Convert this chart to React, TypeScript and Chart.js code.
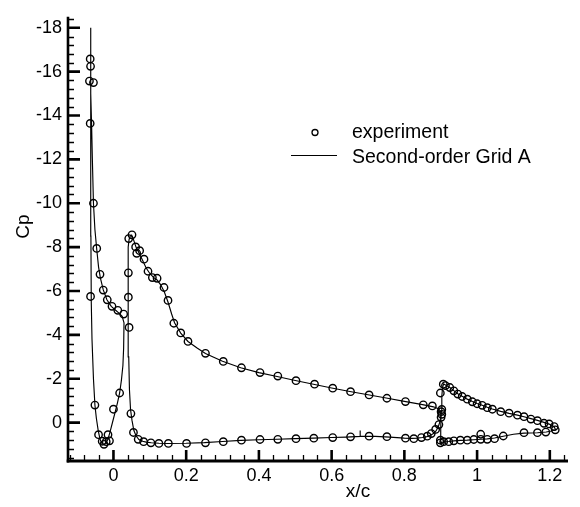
import React, { useEffect, useRef } from 'react';
import { Chart, registerables } from 'chart.js';

Chart.register(...registerables);

// ---------- axis settings ----------
const X_MIN = -0.125;
const X_MAX = 1.25;
const Y_MIN = -18.5; // drawn at top (reversed axis)
const Y_MAX = 1.75;
const xTickValues = [0, 0.2, 0.4, 0.6, 0.8, 1, 1.2];
const xTickLabels = ['0', '0.2', '0.4', '0.6', '0.8', '1', '1.2'];
const yTickValues = [-18, -16, -14, -12, -10, -8, -6, -4, -2, 0];
const yTickLabels = ['-18', '-16', '-14', '-12', '-10', '-8', '-6', '-4', '-2', '0'];
const X_MINOR_STEP = 0.04;
const Y_MINOR_STEP = 0.4;

const xTitle = 'x/c';
const yTitle = 'Cp';
const expLabel = 'experiment';
const cfdLabel = 'Second-order Grid A';

// ---------- experiment (circles) ----------
const expX = [
  // slat upper
  -0.064, -0.063, -0.066, -0.055, -0.064, -0.055, -0.046, -0.037, -0.028, -0.017, -0.004, 0.012, 0.028,
  // slat lower
  -0.063, -0.051, -0.041, -0.031, -0.026, -0.020, -0.015, -0.011, 0.000, 0.017,
  // main leading edge / upper
  0.041, 0.041, 0.043, 0.042, 0.051, 0.061, 0.064, 0.072, 0.084, 0.095, 0.107, 0.120, 0.139, 0.150,
  0.166, 0.185, 0.205, 0.253, 0.302, 0.352, 0.403, 0.452, 0.502, 0.553, 0.603, 0.652, 0.703, 0.752,
  0.803, 0.852, 0.877, 0.901,
  // main lower
  0.048, 0.055, 0.068, 0.083, 0.103, 0.125, 0.151, 0.201, 0.253, 0.302, 0.352, 0.403, 0.452, 0.502,
  0.551, 0.603, 0.652, 0.703, 0.752, 0.803, 0.826, 0.847, 0.863, 0.874, 0.886, 0.895, 0.901,
  // flap leading edge
  0.899, 0.903, 0.903,
  // flap upper
  0.907, 0.913, 0.925, 0.936, 0.947, 0.959, 0.973, 0.987, 1.000, 1.014, 1.028, 1.042, 1.065, 1.088,
  1.111, 1.129, 1.148, 1.166, 1.184, 1.198, 1.212, 1.215,
  // flap lower
  1.189, 1.166, 1.129, 1.072, 1.048, 1.028, 1.010, 1.010, 0.991, 0.973, 0.954, 0.936, 0.922, 0.908,
  0.899, 0.899,
];
const expCp = [
  -16.58, -16.24, -15.57, -15.5, -13.64, -10.0, -7.94, -6.76, -6.04, -5.6, -5.3, -5.12, -4.95,
  -5.75, -0.8, 0.55, 0.85, 0.99, 0.87, 0.55, 0.83, -0.61, -1.35,
  -6.83, -5.72, -4.34, -8.39, -8.56, -8.01, -7.72, -7.84, -7.45, -6.9, -6.61, -6.58, -6.16, -5.57,
  -4.53, -4.09, -3.7, -3.16, -2.79, -2.5, -2.28, -2.12, -1.91, -1.75, -1.57, -1.41, -1.26, -1.11,
  -0.96, -0.81, -0.76, -0.5,
  -0.41, 0.45, 0.76, 0.87, 0.92, 0.95, 0.95, 0.95, 0.92, 0.87, 0.8, 0.77, 0.76, 0.73,
  0.71, 0.68, 0.65, 0.62, 0.64, 0.71, 0.73, 0.68, 0.62, 0.5, 0.31, 0.09, -0.24,
  -1.35, -0.6, -0.38,
  -1.75, -1.69, -1.6, -1.45, -1.3, -1.19, -1.07, -0.95, -0.86, -0.79, -0.68, -0.61, -0.5, -0.43,
  -0.34, -0.27, -0.16, -0.09, 0.03, 0.06, 0.18, 0.33,
  0.43, 0.46, 0.46, 0.61, 0.73, 0.76, 0.53, 0.76, 0.77, 0.8, 0.8, 0.83, 0.87, 0.87,
  0.92, 0.8,
];

// ---------- computation (solid line), one closed trace per element ----------
const slatX = [
  0.029, 0.028, 0.026, 0.022, 0.017, 0.011, 0.005, -0.002, -0.009, -0.015, -0.021, -0.027, -0.032,
  -0.037, -0.042, -0.047, -0.051, -0.055, -0.059, -0.061, -0.062, -0.062, -0.063, -0.063, -0.062,
  -0.060, -0.058, -0.055, -0.051, -0.046, -0.041, -0.036, -0.028, -0.018, -0.006, 0.006, 0.016,
  0.024, 0.029,
];
const slatCp = [
  -4.55, -3.4, -2.6, -1.95, -1.35, -0.9, -0.5, -0.05, 0.4, 0.75, 0.95, 1.0, 0.95,
  0.75, 0.35, -0.2, -0.8, -2.0, -3.8, -5.5, -8.5, -13.0, -18.0, -16.5, -15.0,
  -13.5, -12.0, -10.0, -8.8, -7.9, -7.1, -6.6, -6.05, -5.6, -5.3, -5.12, -4.98,
  -4.85, -4.55,
];

const mainX = [
  0.901, 0.9, 0.897, 0.893, 0.887, 0.88, 0.872, 0.862, 0.85, 0.835, 0.82, 0.8, 0.76, 0.72, 0.68,
  0.679, 0.678, 0.64, 0.6, 0.55, 0.5, 0.45, 0.4, 0.35, 0.3, 0.25, 0.2, 0.15, 0.125, 0.104, 0.09,
  0.08, 0.07, 0.062, 0.056, 0.051, 0.047, 0.044, 0.042, 0.041, 0.04, 0.04, 0.041, 0.043, 0.046,
  0.05, 0.053, 0.057, 0.062, 0.07, 0.08, 0.09, 0.1, 0.11, 0.12, 0.13, 0.14, 0.15, 0.16, 0.168,
  0.185, 0.205, 0.23, 0.253, 0.3, 0.35, 0.4, 0.45, 0.5, 0.55, 0.6, 0.65, 0.7, 0.75, 0.8, 0.85,
  0.88, 0.895, 0.901,
];
const mainCp = [
  -0.45, -0.25, 0.0, 0.2, 0.38, 0.5, 0.58, 0.64, 0.68, 0.71, 0.72, 0.71, 0.66, 0.63, 0.63,
  0.36, 0.63, 0.66, 0.68, 0.71, 0.73, 0.76, 0.78, 0.81, 0.86, 0.91, 0.94, 0.95, 0.94, 0.92, 0.89,
  0.85, 0.77, 0.6, 0.35, -0.1, -0.6, -1.5, -3.0, -4.5, -6.0, -7.2, -8.0, -8.35, -8.5,
  -8.55, -8.45, -8.25, -8.0, -7.75, -7.4, -7.05, -6.8, -6.62, -6.5, -6.28, -5.95, -5.5, -4.95, -4.55,
  -4.08, -3.7, -3.4, -3.15, -2.8, -2.5, -2.28, -2.1, -1.92, -1.75, -1.58, -1.42, -1.27, -1.12, -0.97, -0.82,
  -0.72, -0.62, -0.45,
];

const flapX = [
  0.899, 0.9, 0.901, 0.903, 0.905, 0.908, 0.913, 0.925, 0.936, 0.947, 0.959, 0.973, 0.987, 1.0,
  1.014, 1.028, 1.042, 1.065, 1.088, 1.111, 1.129, 1.148, 1.166, 1.184, 1.2, 1.212, 1.216, 1.205,
  1.19, 1.166, 1.129, 1.1, 1.072, 1.048, 1.028, 1.01, 0.991, 0.973, 0.954, 0.936, 0.922, 0.91,
  0.902, 0.899,
];
const flapCp = [
  0.92, 0.3, -0.5, -1.2, -1.6, -1.77, -1.72, -1.6, -1.46, -1.32, -1.2, -1.07, -0.96, -0.87,
  -0.79, -0.7, -0.62, -0.51, -0.42, -0.34, -0.27, -0.18, -0.1, -0.01, 0.08, 0.2, 0.32, 0.38,
  0.43, 0.46, 0.48, 0.53, 0.62, 0.7, 0.74, 0.76, 0.78, 0.8, 0.81, 0.83, 0.86, 0.88,
  0.9, 0.92,
];

const toPoints = (xs: number[], ys: number[]) => xs.map((x, i) => ({ x, y: ys[i] }));

const FONT = '"Liberation Sans", Arial, Helvetica, sans-serif';

const axesPlugin = {
  id: 'customAxes',
  afterDraw(chart: any) {
    const { ctx, chartArea, scales } = chart;
    const { left, right, top, bottom } = chartArea;
    const xs = scales.x;
    const ys = scales.y;
    ctx.save();
    ctx.strokeStyle = '#000';
    ctx.lineCap = 'butt';

    // minor ticks
    ctx.lineWidth = 1.3;
    ctx.beginPath();
    for (let k = Math.ceil(X_MIN / X_MINOR_STEP); k * X_MINOR_STEP <= X_MAX + 1e-9; k++) {
      const v = k * X_MINOR_STEP;
      if (xTickValues.some((t) => Math.abs(t - v) < 1e-6)) continue;
      const px = Math.round(xs.getPixelForValue(v)) + 0.5;
      ctx.moveTo(px, bottom);
      ctx.lineTo(px, bottom - 6);
    }
    for (let k = Math.ceil(Y_MIN / Y_MINOR_STEP); k * Y_MINOR_STEP <= Y_MAX + 1e-9; k++) {
      const v = k * Y_MINOR_STEP;
      if (yTickValues.some((t) => Math.abs(t - v) < 1e-6)) continue;
      const py = Math.round(ys.getPixelForValue(v)) + 0.5;
      ctx.moveTo(left, py);
      ctx.lineTo(left + 6, py);
    }
    ctx.stroke();

    // major ticks
    ctx.lineWidth = 2.6;
    ctx.beginPath();
    xTickValues.forEach((v) => {
      const px = xs.getPixelForValue(v);
      ctx.moveTo(px, bottom);
      ctx.lineTo(px, bottom - 11);
    });
    yTickValues.forEach((v) => {
      const py = ys.getPixelForValue(v);
      ctx.moveTo(left, py);
      ctx.lineTo(left + 12, py);
    });
    ctx.stroke();

    // spines
    ctx.lineWidth = 2.6;
    ctx.beginPath();
    ctx.moveTo(left, top);
    ctx.lineTo(left, bottom + 1.5);
    ctx.stroke();
    ctx.lineWidth = 3;
    ctx.beginPath();
    ctx.moveTo(left - 1.3, bottom);
    ctx.lineTo(right, bottom);
    ctx.stroke();

    // axis titles
    ctx.fillStyle = '#000';
    ctx.font = `19px ${FONT}`;
    ctx.textAlign = 'center';
    ctx.textBaseline = 'alphabetic';
    ctx.fillText(xTitle, 358, 497);
    ctx.save();
    ctx.translate(29, 226.5);
    ctx.rotate(-Math.PI / 2);
    ctx.fillText(yTitle, 0, 0);
    ctx.restore();

    // legend
    ctx.font = `19.5px ${FONT}`;
    ctx.textAlign = 'left';
    ctx.lineWidth = 1.3;
    ctx.beginPath();
    ctx.arc(315, 132.5, 3, 0, Math.PI * 2);
    ctx.stroke();
    ctx.fillText(expLabel, 352, 138);
    ctx.lineWidth = 1.1;
    ctx.beginPath();
    ctx.moveTo(291, 155.5);
    ctx.lineTo(337, 155.5);
    ctx.stroke();
    ctx.fillText(cfdLabel, 352, 163);
    ctx.restore();
  },
};

export default function App() {
  const canvasRef = useRef<HTMLCanvasElement | null>(null);

  useEffect(() => {
    if (!canvasRef.current) return;
    const lineStyle = {
      type: 'line' as const,
      showLine: true,
      borderColor: '#000',
      borderWidth: 1.15,
      pointRadius: 0,
      fill: false,
      tension: 0,
    };
    const chart = new Chart(canvasRef.current, {
      type: 'scatter',
      data: {
        datasets: [
          { ...lineStyle, label: cfdLabel, data: toPoints(slatX, slatCp) },
          { ...lineStyle, label: cfdLabel, data: toPoints(mainX, mainCp) },
          { ...lineStyle, label: cfdLabel, data: toPoints(flapX, flapCp) },
          {
            label: expLabel,
            data: toPoints(expX, expCp),
            pointStyle: 'circle',
            pointRadius: 3.7,
            pointBorderWidth: 1.4,
            pointBorderColor: '#000',
            pointBackgroundColor: 'rgba(0,0,0,0)',
            showLine: false,
          } as any,
        ],
      },
      options: {
        responsive: false,
        animation: false,
        layout: { padding: { top: 5, right: 12, left: 0, bottom: 0 } },
        plugins: { legend: { display: false }, tooltip: { enabled: false } },
        scales: {
          x: {
            type: 'linear',
            min: X_MIN,
            max: X_MAX,
            grid: { display: false, drawTicks: false },
            border: { display: false },
            afterBuildTicks: (scale: any) => {
              scale.ticks = xTickValues.map((value) => ({ value }));
            },
            afterFit: (scale: any) => {
              scale.height = 46;
            },
            ticks: {
              padding: 4,
              maxRotation: 0,
              autoSkip: false,
              color: '#000',
              font: { family: FONT, size: 18 },
              callback: (value: any) => {
                const i = xTickValues.findIndex((t) => Math.abs(t - Number(value)) < 1e-6);
                return i >= 0 ? xTickLabels[i] : '';
              },
            },
          },
          y: {
            type: 'linear',
            reverse: true,
            min: Y_MIN,
            max: Y_MAX,
            grid: { display: false, drawTicks: false },
            border: { display: false },
            afterBuildTicks: (scale: any) => {
              scale.ticks = yTickValues.map((value) => ({ value }));
            },
            afterFit: (scale: any) => {
              scale.width = 68;
            },
            ticks: {
              padding: 6,
              autoSkip: false,
              color: '#000',
              font: { family: FONT, size: 18 },
              callback: (value: any) => {
                const i = yTickValues.findIndex((t) => Math.abs(t - Number(value)) < 1e-6);
                return i >= 0 ? yTickLabels[i] : '';
              },
            },
          },
        },
      },
      plugins: [axesPlugin],
    });
    return () => chart.destroy();
  }, []);

  return (
    <div style={{ position: 'absolute', left: 0, top: 0, width: 580, height: 507, background: '#fff' }}>
      <canvas ref={canvasRef} width={580} height={507} style={{ display: 'block' }} />
    </div>
  );
}
